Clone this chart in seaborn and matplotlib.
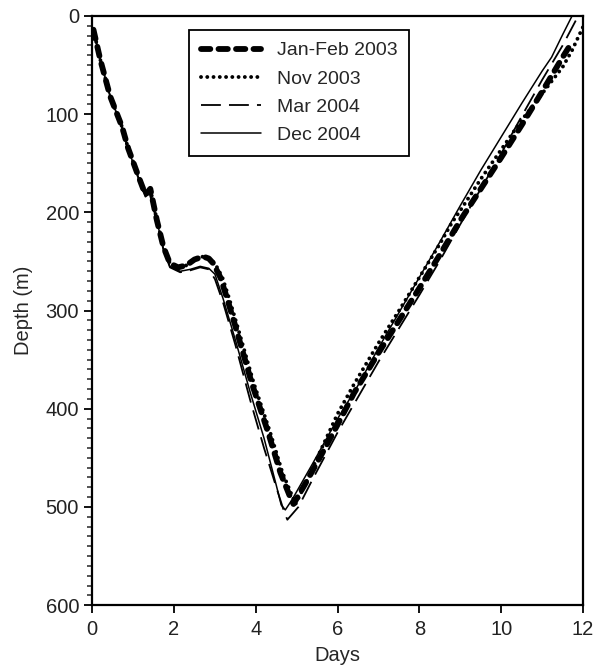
import numpy as np
import pandas as pd
import matplotlib
matplotlib.use("Agg")
import matplotlib.pyplot as plt
from matplotlib.ticker import MultipleLocator
import seaborn as sns

# Dive profiles: days vs depth (m)
days_janfeb03 = [0.03, 0.2, 0.44, 0.73, 0.88, 1.1, 1.3, 1.42, 1.58, 1.74, 1.9, 2.1, 2.3, 2.5,
                 2.71, 2.85, 2.96, 3.13, 3.3, 3.5, 3.9, 4.3, 4.6, 4.84, 4.92, 5.2, 5.6, 6.0,
                 6.4, 7.0, 7.5, 8.0, 8.5, 9.0, 9.5, 10.0, 10.5, 11.0, 11.5, 11.65]
depth_janfeb03 = [14, 45, 82, 113, 135, 160, 182, 176, 208, 235, 252, 256, 254, 248,
                  245, 247, 252, 266, 288, 316, 374, 424, 465, 490, 497, 477, 447, 416,
                  384, 343, 310, 277, 243, 208, 176, 144, 111, 77, 42, 32]

days_nov03 = [0.03, 0.2, 0.44, 0.73, 0.88, 1.1, 1.3, 1.42, 1.58, 1.74, 1.9, 2.1, 2.3, 2.5,
              2.71, 2.85, 3.0, 3.18, 3.35, 3.55, 3.95, 4.35, 4.65, 4.88, 4.97, 5.15, 5.6,
              6.0, 6.4, 7.0, 7.5, 8.0, 8.5, 8.8, 9.0, 9.5, 10.0, 10.5, 11.0, 11.5, 11.73, 12.0]
depth_nov03 = [14, 45, 82, 113, 135, 160, 182, 176, 208, 235, 252, 256, 254, 248,
               245, 247, 252, 266, 288, 316, 374, 424, 465, 488, 497, 482, 441,
               405, 375, 333, 300, 266, 232, 210, 198, 166, 136, 106, 79, 52, 35, 11]

days_mar04 = [0.03, 0.2, 0.44, 0.73, 0.88, 1.1, 1.3, 1.42, 1.58, 1.74, 1.9, 2.15, 2.4, 2.64,
              2.85, 3.0, 3.2, 3.5, 3.86, 4.2, 4.5, 4.7, 4.77, 5.04, 5.41, 6.0, 6.5, 7.0,
              7.5, 8.0, 8.5, 9.0, 9.5, 10.0, 10.5, 11.0, 11.5, 11.88]
depth_mar04 = [14, 45, 82, 114, 136, 162, 184, 180, 210, 238, 256, 261, 259, 256,
               258, 268, 292, 335, 391, 440, 480, 506, 513, 500, 470, 424, 388, 352,
               318, 284, 249, 212, 176, 140, 102, 65, 30, 0]

days_dec04 = [0.03, 0.2, 0.44, 0.73, 0.88, 1.1, 1.3, 1.4, 1.58, 1.74, 1.9, 2.15, 2.4, 2.64,
              2.85, 3.0, 3.2, 3.5, 3.86, 4.2, 4.5, 4.62, 4.72, 4.88, 5.4, 6.0, 6.5, 7.0,
              7.5, 8.0, 8.5, 9.0, 9.5, 10.0, 10.5, 11.0, 11.23, 11.5, 11.73]
depth_dec04 = [14, 45, 82, 114, 136, 161, 183, 181, 209, 237, 255, 260, 258, 255,
               257, 263, 288, 330, 383, 430, 478, 498, 503, 493, 455, 410, 376, 338,
               302, 266, 230, 193, 157, 123, 89, 56, 42, 19, 0]

labels = ["Jan-Feb 2003", "Nov 2003", "Mar 2004", "Dec 2004"]

frames = []
for lab, d, z in zip(labels,
                     [days_janfeb03, days_nov03, days_mar04, days_dec04],
                     [depth_janfeb03, depth_nov03, depth_mar04, depth_dec04]):
    frames.append(pd.DataFrame({"Days": d, "Depth": z, "series": lab}))
df = pd.concat(frames, ignore_index=True)

sns.set_style("ticks")
plt.rcParams['font.family'] = ['Liberation Sans', 'DejaVu Sans']
plt.rcParams['font.size'] = 14

fig = plt.figure(figsize=(5.95, 6.65), dpi=100)
ax = fig.add_axes([0.155, 0.09, 0.825, 0.886])

styles = {
    "Jan-Feb 2003": dict(lw=4.2, linestyle=(0, (1.6, 1.4)), dash_capstyle='round'),
    "Nov 2003": dict(lw=2.8, linestyle=(0, (0.01, 1.6)), dash_capstyle='round'),
    "Mar 2004": dict(lw=1.3, linestyle=(0, (11, 4.5))),
    "Dec 2004": dict(lw=1.1, linestyle='-'),
}

for lab in labels:
    sub = df[df["series"] == lab]
    sns.lineplot(data=sub, x="Days", y="Depth", ax=ax, color='black', sort=False,
                 estimator=None, label=lab, **styles[lab])

ax.set_xlim(0, 12)
ax.set_ylim(600, 0)
ax.xaxis.set_major_locator(MultipleLocator(2))
ax.yaxis.set_major_locator(MultipleLocator(100))
ax.yaxis.set_minor_locator(MultipleLocator(10))
ax.tick_params(axis='both', which='major', direction='out', length=6, width=1.3,
               labelsize=14.5, color='black', labelcolor='#222222')
ax.tick_params(axis='x', which='major', pad=5)
ax.tick_params(axis='y', which='minor', direction='out', length=3.5, width=1.1)
for sp in ax.spines.values():
    sp.set_linewidth(1.6)
    sp.set_color('black')
    sp.set_visible(True)
ax.set_xlabel("Days", fontsize=14.5, labelpad=5)
ax.set_ylabel("Depth (m)", fontsize=14.5, labelpad=9)

leg = ax.legend(loc='upper left', bbox_to_anchor=(0.198, 0.976), frameon=True,
                fancybox=False, edgecolor='black', fontsize=14, handlelength=3.1,
                handletextpad=0.8, labelspacing=0.55, borderpad=0.6, borderaxespad=0)
leg.get_frame().set_linewidth(1.3)
leg.get_frame().set_alpha(1)

fig.savefig("out.png", dpi=100)
